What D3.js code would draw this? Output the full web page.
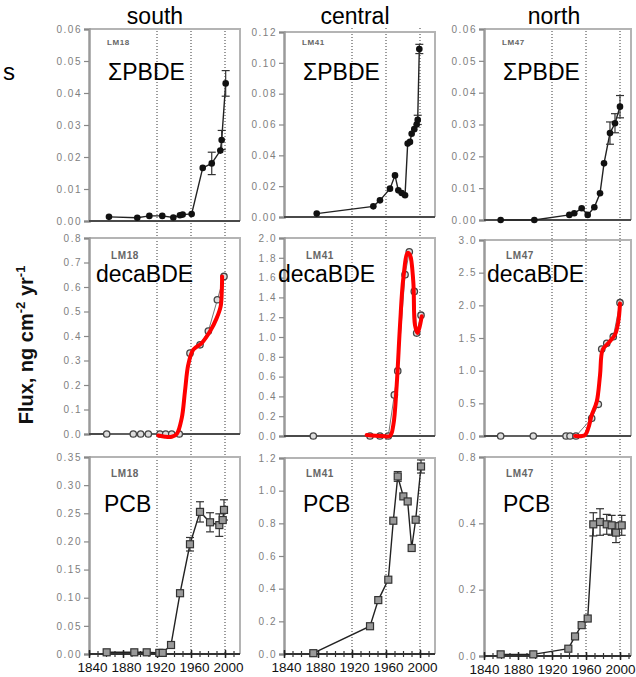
<!DOCTYPE html>
<html>
<head>
<meta charset="UTF-8">
<script src="https://cdn.jsdelivr.net/npm/d3@7/dist/d3.min.js"></script>
<style>
body{
    margin:0;
    background:#fff;
    font-family: Arial, "Liberation Sans", Helvetica, sans-serif;
}
.yaxis text{
    fill:#808080;
    font-size:10px;
    letter-spacing:1.5px;
}
.xaxis text{
    fill:#111;
    font-size:13.5px;
}
</style>
</head>
<body>
<script>

var regions = ["south", "central", "north"];
var cores = ["LM18", "LM41", "LM47"];
var compounds = ["\u03A3PBDE", "decaBDE", "PCB"];
var yearTicks = [1840, 1880, 1920, 1960, 2000];
var markYears = [1920, 1960, 2000];

// y ranges per row / column
var yMax  = [[0.06, 0.12, 0.06], [0.8, 2.0, 3.0], [0.35, 1.2, 0.6]];
var yStep = [[0.01, 0.02, 0.01], [0.1, 0.2, 0.5], [0.05, 0.2, 0.2]];
// the north PCB panel has its top label printed as 0.8
var pcbNorthTickLabels = ["0.0", "0.2", "0.4", "0.8"];

// [year, flux, error]
var pbdeSouth = [[1863.5,0.0013],[1896.8,0.0010],[1911,0.0016],[1926.2,0.0016],[1939.2,0.0011],[1947,0.0018],[1950.2,0.0020],[1960.8,0.0022],[1973.8,0.0166],[1984.4,0.018,0.0035],[1994.5,0.022],[1996.1,0.0253,0.003],[2000.8,0.043,0.004]];
var pbdeCentral = [[1878.5,0.0022],[1945.1,0.0069],[1952.9,0.0108],[1964.7,0.0184],[1970.6,0.027],[1974.5,0.0173],[1978.5,0.0156],[1982.4,0.0141],[1985.5,0.0476],[1988.2,0.0487],[1990.2,0.054],[1993.3,0.057],[1996.1,0.060],[1997.3,0.063,0.003],[1999.2,0.109,0.003]];
var pbdeNorth = [[1859.6,0],[1899.2,0],[1940.4,0.0016],[1946.2,0.0021],[1954.9,0.0037],[1962,0.0016],[1969.8,0.004],[1976.5,0.0084],[1981.2,0.0178],[1988.2,0.0273,0.0035],[1994.1,0.0304,0.003],[2000,0.0356,0.0035]];

var decaSouth = [[1860.8,0],[1892.1,0],[1900.8,0],[1909.8,0],[1923.5,0],[1930.2,0],[1937.3,0],[1946.2,0],[1958.8,0.33],[1970.6,0.364],[1980.4,0.42],[1991,0.548],[1998.8,0.643]];
var decaCentral = [[1874.5,0],[1941.2,0],[1952.9,0],[1962.7,0],[1969.8,0.415],[1973.8,0.657],[1982.4,1.63],[1987.4,1.86],[1993.3,1.46],[1996.1,1.04],[2001.2,1.22]];
var decaNorth = [[1859.6,0],[1898,0],[1936.5,0],[1941.2,0],[1948.2,0],[1966.7,0.27],[1974.5,0.485],[1978.5,1.33],[1984.4,1.42],[1992.1,1.52],[2000,2.04]];

// red fitted curves over decaBDE
var decaSouthFit = [[1921.5,-0.006],[1929.4,-0.011],[1937.3,-0.011],[1943.2,0],[1949.1,0.065],[1952.9,0.174],[1956.8,0.283],[1962.7,0.344],[1972.6,0.371],[1982.4,0.419],[1990.2,0.473],[1994.9,0.521],[1996.2,0.582],[1996.6,0.643]];
var decaCentralFit = [[1937.3,0.01],[1954.9,0],[1964.7,0],[1968.6,0.11],[1972.6,0.516],[1976.5,1.12],[1980.4,1.595],[1985.5,1.85],[1988.2,1.83],[1992.1,1.56],[1994.1,1.12],[1997.3,1.04],[2002,1.21]];
var decaNorthFit = [[1947.1,0],[1958.8,0.015],[1962.7,0.12],[1966.7,0.32],[1972.6,0.525],[1976.5,0.93],[1979.6,1.32],[1986.2,1.42],[1994.1,1.55],[1998,1.75],[2000,2.03]];

var pcbSouth = [[1860.8,0.003],[1893.3,0.003],[1907.9,0.003],[1922.7,0.002],[1926.7,0.002],[1936.5,0.016],[1947.1,0.108],[1958.8,0.195,0.012],[1970.6,0.2525,0.018],[1982.4,0.234,0.017],[1993.3,0.229,0.02],[1997.3,0.238],[1998.8,0.256,0.018]];
var pcbCentral = [[1874.5,0.005],[1941.2,0.17],[1950.9,0.33],[1962.7,0.455],[1968.6,0.816],[1973.8,1.087,0.03],[1980.4,0.965],[1985.5,0.934],[1990.2,0.649],[1994.9,0.822],[2001.2,1.148,0.04]];
var pcbNorth = [[1859.6,0.005],[1898,0.005],[1939.2,0.022],[1947.1,0.059],[1954.9,0.093],[1962,0.113],[1968.6,0.397,0.035],[1976.5,0.404,0.04],[1984.4,0.397,0.03],[1990.2,0.394,0.03],[1995.3,0.372,0.03],[2002,0.394,0.03]];

var series = [[pbdeSouth, pbdeCentral, pbdeNorth],
              [decaSouth, decaCentral, decaNorth],
              [pcbSouth, pcbCentral, pcbNorth]];
var fits = [decaSouthFit, decaCentralFit, decaNorthFit];

// layout
var colLeft = [89, 284, 484],
    colRight = [240, 435, 631],
    labelShift = [3, 2, 0],
    panelTop = [[29, 32, 29], [238, 238, 240], [457, 458, 457]],
    panelBottom = [[221, 217, 220], [434, 436, 436], [654, 654, 656]];

var svg = d3.select("body").append("svg")
    .attr("width", 636)
    .attr("height", 677);

var xs = colLeft.map(function(l){
    return d3.scaleLinear().domain([1840, 2000]).range([l, l + 136]);
});

// dotted guide years, running through all three rows
xs.forEach(function(x){
    svg.selectAll(null)
        .data(markYears)
        .enter().append("line")
        .attr("x1", function(d){ return x(d); })
        .attr("x2", function(d){ return x(d); })
        .attr("y1", 28)
        .attr("y2", 654)
        .attr("stroke", "#222")
        .attr("stroke-width", 0.9)
        .attr("stroke-dasharray", "1,2");
});

// column titles
svg.selectAll(".title")
    .data(regions)
    .enter().append("text")
    .attr("x", function(d, i){ return [155, 355, 554][i]; })
    .attr("y", 24)
    .attr("text-anchor", "middle")
    .attr("font-size", 23)
    .attr("fill", "#000")
    .text(function(d){ return d; });

svg.append("text")
    .attr("x", 3)
    .attr("y", 80)
    .attr("font-size", 24)
    .text("s");

// y label
var yl = svg.append("text")
    .attr("transform", "translate(33,345) rotate(-90)")
    .attr("text-anchor", "middle")
    .attr("font-size", 20)
    .attr("font-weight", "bold")
    .attr("fill", "#111");
yl.append("tspan").text("Flux, ng cm");
yl.append("tspan").attr("dy", -8).attr("font-size", 13).text("-2");
yl.append("tspan").attr("dy", 8).text(" yr");
yl.append("tspan").attr("dy", -8).attr("font-size", 13).text("-1");

var lineFn = d3.line();
var fitFn = d3.line().curve(d3.curveCatmullRom.alpha(0.5));

function drawPanel(r, c) {
    var x = xs[c];
    var yTop = panelTop[r][c], yBot = panelBottom[r][c];
    var y = d3.scaleLinear().domain([0, yMax[r][c]]).range([yBot, yTop]);
    var g = svg.append("g");

    // frame: top and right in light grey
    g.append("path")
        .attr("d", "M" + colLeft[c] + "," + yTop + "H" + colRight[c] + "V" + yBot)
        .attr("fill", "none")
        .attr("stroke", "#b4b4b4")
        .attr("stroke-width", 2);

    // y axis
    var step = yStep[r][c];
    var fmt = d3.format(step < 0.1 ? ".2f" : ".1f");
    var tv = d3.range(0, yMax[r][c] + step / 2, step);
    var yAxis = d3.axisLeft(y)
        .tickValues(tv)
        .tickSize(5)
        .tickPadding(2)
        .tickFormat(function(d, i){
            if (r == 2 && c == 2) return pcbNorthTickLabels[i];
            return fmt(d);
        });
    var gy = g.append("g")
        .attr("class", "yaxis")
        .attr("transform", "translate(" + colLeft[c] + ",0)")
        .call(yAxis);
    gy.select(".domain").attr("stroke", "#9a9a9a").attr("stroke-width", 2.5);
    gy.selectAll(".tick line").attr("stroke", "#888").attr("stroke-width", 1.2);
    gy.selectAll("text").attr("font-family", "Arial, 'Liberation Sans', sans-serif");

    // bottom axis
    if (r < 2) {
      g.append("line")
          .attr("x1", colLeft[c]).attr("x2", colRight[c])
          .attr("y1", yBot).attr("y2", yBot)
          .attr("stroke", "#4a4a4a")
          .attr("stroke-width", 2);
    } else {
      var gm = g.append("g")
          .attr("transform", "translate(0," + yBot + ")")
          .call(d3.axisBottom(x).tickValues(d3.range(1840, 2020, 10)).tickSize(3).tickFormat(""));
      gm.select(".domain").remove();
      gm.selectAll(".tick line").attr("y1", -3).attr("stroke", "#333").attr("stroke-width", 1.2);
      var gx = g.append("g")
          .attr("class", "xaxis")
          .attr("transform", "translate(0," + yBot + ")")
          .call(d3.axisBottom(x).tickValues(yearTicks).tickSize(4).tickPadding(4).tickFormat(d3.format("d")));
      gx.select(".domain")
          .attr("d", "M" + colLeft[c] + ",0H" + colRight[c])
          .attr("stroke", "#333").attr("stroke-width", 1.8);
      gx.selectAll(".tick line").attr("y1", -4).attr("stroke", "#222").attr("stroke-width", 1.5);
      gx.selectAll("text").attr("dx", labelShift[c]).attr("font-family", "Arial, 'Liberation Sans', sans-serif");
    }

    var data = series[r][c];

    // connecting line
    g.append("path")
        .attr("d", lineFn(data.map(function(d){ return [x(d[0]), y(d[1])]; })))
        .attr("fill", "none")
        .attr("stroke", r == 1 ? "#777" : "#222")
        .attr("stroke-width", r == 1 ? 1 : 1.4);

    // error bars
    var eb = g.selectAll(".err")
        .data(data.filter(function(d){ return d[2]; }))
        .enter().append("g")
        .attr("stroke", "#333")
        .attr("stroke-width", 1.2);
    eb.append("line")
        .attr("x1", function(d){ return x(d[0]); })
        .attr("x2", function(d){ return x(d[0]); })
        .attr("y1", function(d){ return y(d[1] - d[2]); })
        .attr("y2", function(d){ return y(d[1] + d[2]); });
    eb.append("line")
        .attr("x1", function(d){ return x(d[0]) - 4; })
        .attr("x2", function(d){ return x(d[0]) + 4; })
        .attr("y1", function(d){ return y(d[1] + d[2]); })
        .attr("y2", function(d){ return y(d[1] + d[2]); });
    eb.append("line")
        .attr("x1", function(d){ return x(d[0]) - 4; })
        .attr("x2", function(d){ return x(d[0]) + 4; })
        .attr("y1", function(d){ return y(d[1] - d[2]); })
        .attr("y2", function(d){ return y(d[1] - d[2]); });

    // markers
    if (r == 0) {
      g.selectAll(".pt").data(data).enter().append("circle")
          .attr("cx", function(d){ return x(d[0]); })
          .attr("cy", function(d){ return y(d[1]); })
          .attr("r", 3.3)
          .attr("fill", "#111");
    } else if (r == 1) {
      g.selectAll(".pt").data(data).enter().append("circle")
          .attr("cx", function(d){ return x(d[0]); })
          .attr("cy", function(d){ return y(d[1]); })
          .attr("r", 3.2)
          .attr("fill", "#ddd")
          .attr("stroke", "#444")
          .attr("stroke-width", 1.3);
      g.append("path")
          .attr("d", fitFn(fits[c].map(function(d){ return [x(d[0]), y(d[1])]; })))
          .attr("fill", "none")
          .attr("stroke", "#ff0000")
          .attr("stroke-width", 4)
          .attr("stroke-linecap", "round")
          .attr("stroke-linejoin", "round");
    } else {
      g.selectAll(".pt").data(data).enter().append("rect")
          .attr("x", function(d){ return x(d[0]) - 3.5; })
          .attr("y", function(d){ return y(d[1]) - 3.5; })
          .attr("width", 7)
          .attr("height", 7)
          .attr("fill", "#999")
          .attr("stroke", "#333")
          .attr("stroke-width", 1.2);
    }

    // core id and compound name
    g.append("text")
        .attr("x", colLeft[c] + (r == 0 ? 18 : 22))
        .attr("y", r == 0 ? 45 : [259, 477][r - 1])
        .attr("font-size", r == 0 ? 8 : 10)
        .attr("font-weight", "bold")
        .attr("letter-spacing", 0.6)
        .attr("fill", "#666")
        .text(cores[c]);
    g.append("text")
        .attr("x", [[108, 303, 503], [96, 278, 487], [104, 303, 503]][r][c])
        .attr("y", [80, 282, 512][r])
        .attr("font-size", 23)
        .attr("fill", "#000")
        .text(compounds[r]);
}

for (var r = 0; r < 3; r++) {
  for (var c = 0; c < 3; c++) {
    drawPanel(r, c);
  }
}

</script>
</body>
</html>
